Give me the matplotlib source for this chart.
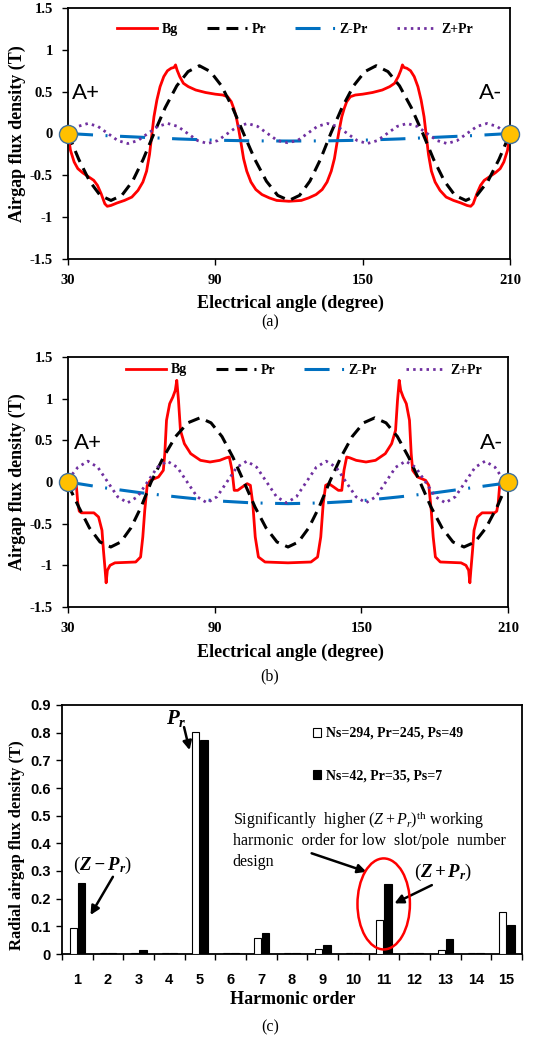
import matplotlib
matplotlib.use('Agg')
import numpy as np
import matplotlib.pyplot as plt
from matplotlib.patches import Ellipse

# ---------------- data ----------------
ANGLE_ENDS = [30, 210]
XTICKS = [30, 90, 150, 210]
YTICKS = [-1.5, -1.0, -0.5, 0.0, 0.5, 1.0, 1.5]
YTICKLABELS = ['-1.5', '-1', '-0.5', '0', '0.5', '1', '1.5']
SERIES_NAMES = ['Bg', 'Pr', 'Z-Pr', 'Z+Pr']

# Panel (a)
BG_A_DEG = [30.0, 31.0, 32.5, 34.0, 36.0, 38.5, 40.5, 42.0, 43.5, 45.0, 46.0, 47.5, 50.0, 53.0,
            56.0, 58.5, 60.5, 62.0, 63.2, 64.0, 65.0, 66.2, 67.5, 69.0, 70.5, 72.0, 73.2, 73.8,
            74.4, 75.5, 77.0, 79.0, 82.0, 86.0, 90.0, 93.0, 95.0, 96.5, 97.5, 98.5, 99.5, 100.5,
            101.5, 102.8, 104.5, 106.5, 109.0, 112.0, 115.0, 120.0,
            125.0, 128.0, 131.0, 133.5, 135.5, 137.2, 138.5, 139.5, 140.5, 141.5, 142.5, 143.5,
            145.0, 147.0, 150.0, 154.0, 158.0, 161.0, 163.0, 164.5, 165.6, 166.2, 166.8, 168.0,
            169.5, 171.0, 172.5, 173.8, 175.0, 176.0, 176.8, 178.0, 179.5, 181.5, 184.0, 187.0,
            190.0, 192.5, 194.0, 195.0, 196.5, 198.0, 199.5, 201.5, 204.0, 206.0, 207.5, 209.0, 210.0]
BG_A_VAL = [0.0, -0.2, -0.34, -0.42, -0.47, -0.52, -0.56, -0.62, -0.72, -0.84, -0.87, -0.86, -0.83, -0.8,
            -0.76, -0.68, -0.58, -0.45, -0.25, -0.05, 0.2, 0.4, 0.56, 0.68, 0.75, 0.78, 0.79, 0.82,
            0.76, 0.68, 0.6, 0.56, 0.52, 0.49, 0.47, 0.46, 0.44, 0.38, 0.3, 0.2, 0.05, -0.12,
            -0.3, -0.45, -0.58, -0.67, -0.73, -0.77, -0.8, -0.81,
            -0.8, -0.77, -0.73, -0.67, -0.58, -0.45, -0.3, -0.12, 0.05, 0.2, 0.3, 0.38,
            0.44, 0.46, 0.47, 0.49, 0.52, 0.56, 0.6, 0.68, 0.76, 0.82, 0.79, 0.78,
            0.75, 0.68, 0.56, 0.4, 0.2, -0.05, -0.25, -0.45, -0.58, -0.68, -0.76, -0.8,
            -0.83, -0.86, -0.87, -0.84, -0.72, -0.62, -0.56, -0.52, -0.47, -0.42, -0.34, -0.2, 0.0]

PR_A_DEG = [30.0, 34.4, 38.8, 43.1, 47.5, 51.9, 56.3, 60.6, 65.0, 69.6, 74.3, 78.9, 83.5, 88.0,
            92.5, 97.0, 101.5, 106.1, 110.8, 115.4, 120.0, 124.3, 128.5, 132.8, 137.0, 141.6,
            146.3, 150.9, 155.5, 160.3, 165.0, 169.8, 174.5, 178.9, 183.3, 187.6, 192.0, 196.5,
            201.0, 205.5, 210.0]
PR_A_VAL = [0.0, -0.31, -0.57, -0.74, -0.8, -0.74, -0.57, -0.31, 0.0, 0.31, 0.57, 0.74, 0.81, 0.74,
            0.57, 0.31, 0.0, -0.31, -0.57, -0.74, -0.8, -0.74, -0.57, -0.31, 0.0, 0.31,
            0.57, 0.74, 0.81, 0.74, 0.57, 0.31, 0.0, -0.31, -0.57, -0.74, -0.8, -0.74,
            -0.57, -0.31, 0.0]

ZM_DEG = [30, 45, 60, 75, 90, 105, 120, 135, 150, 165, 180, 195, 210]
ZM_A_VAL = [0.0, -0.025, -0.045, -0.065, -0.08, -0.088, -0.09, -0.088, -0.08, -0.065, -0.045, -0.025, 0.0]
ZM_B_VAL = [0.0, -0.07, -0.13, -0.18, -0.225, -0.25, -0.26, -0.25, -0.225, -0.18, -0.13, -0.07, -0.01]

ZP_DEG = [30.0, 34.06, 38.13, 42.19, 46.25, 50.31, 54.38, 58.44, 62.5, 66.56, 70.63, 74.69,
          78.75, 82.81, 86.88, 90.94, 95.0, 99.06, 103.13, 107.19, 111.25, 115.31, 119.38,
          123.44, 127.5, 131.56, 135.63, 139.69, 143.75, 147.81, 151.88, 155.94, 160.0, 164.06,
          168.13, 172.19, 176.25, 180.31, 184.38, 188.44, 192.5, 196.56, 200.63, 204.69, 208.75, 210.0]
ZP_A_VAL = [0.0, 0.085, 0.12, 0.085, 0.0, -0.085, -0.12, -0.085,
            0.0, 0.085, 0.12, 0.085, 0.0, -0.085, -0.12, -0.085,
            0.0, 0.085, 0.12, 0.085, 0.0, -0.085, -0.11, -0.085,
            0.0, 0.085, 0.12, 0.085, 0.0, -0.085, -0.12, -0.085,
            0.0, 0.085, 0.12, 0.085, 0.0, -0.085, -0.12, -0.085,
            0.0, 0.085, 0.12, 0.085, 0.0, -0.03]
ZP_B_VAL = [0.03, 0.177, 0.25, 0.177, 0.0, -0.177, -0.25, -0.177,
            0.0, 0.177, 0.25, 0.177, 0.0, -0.177, -0.25, -0.177,
            0.0, 0.177, 0.25, 0.177, 0.0, -0.177, -0.25, -0.177,
            0.0, 0.177, 0.25, 0.177, 0.0, -0.177, -0.25, -0.177,
            0.0, 0.177, 0.25, 0.177, 0.0, -0.177, -0.25, -0.177,
            0.0, 0.177, 0.25, 0.177, 0.0, -0.05]

# Panel (b)
BG_B_DEG = [30.0, 32.5, 33.3, 34.0, 34.6, 35.5, 40.6, 42.5, 43.9, 44.5, 45.2, 45.6, 46.1, 47.2,
            49.2, 57.7, 59.7, 60.6, 61.4, 62.4, 63.7, 67.0, 69.0, 69.6, 70.3, 71.6, 72.9, 73.9,
            74.5, 75.2, 76.0, 77.6, 80.2, 84.2, 88.1, 92.1, 94.7, 96.0, 97.1, 98.0, 99.4, 101.3,
            103.3, 104.6, 105.6, 106.6, 107.9, 110.6, 120.0,
            129.4, 132.1, 133.4, 134.4, 135.4, 136.7, 138.7, 140.6, 142.0, 142.9, 144.0, 145.3,
            147.9, 151.9, 155.8, 159.8, 162.4, 164.0, 164.8, 165.5, 166.1, 167.1, 168.4, 169.7,
            170.4, 171.0, 173.0, 176.3, 177.6, 178.6, 179.4, 180.3, 182.3, 190.8, 192.8, 193.9,
            194.4, 194.8, 195.5, 196.1, 197.5, 199.4, 204.5, 205.4, 206.0, 206.7, 207.5, 210.0]
BG_B_VAL = [0.05, 0.05, 0.0, -0.25, -0.35, -0.37, -0.37, -0.42, -0.58, -0.82, -1.06, -1.21, -1.06, -1.0,
            -0.97, -0.96, -0.9, -0.66, -0.34, -0.04, 0.02, 0.06, 0.14, 0.34, 0.74, 0.94, 1.02, 1.1,
            1.22, 0.98, 0.62, 0.46, 0.34, 0.26, 0.24, 0.26, 0.29, 0.3, 0.14, -0.1, -0.1, -0.06,
            -0.02, -0.04, -0.26, -0.66, -0.9, -0.96, -0.97,
            -0.96, -0.9, -0.66, -0.26, -0.04, -0.02, -0.06, -0.1, -0.1, 0.14, 0.3, 0.29,
            0.26, 0.24, 0.26, 0.34, 0.46, 0.62, 0.98, 1.22, 1.1, 1.02, 0.94, 0.74,
            0.34, 0.14, 0.06, 0.02, -0.04, -0.34, -0.66, -0.9, -0.96, -0.97, -1.0, -1.06,
            -1.21, -1.06, -0.82, -0.58, -0.42, -0.37, -0.37, -0.35, -0.25, 0.0, 0.05, 0.05]

PR_B_DEG = [30.0, 34.4, 38.75, 43.1, 47.5, 51.6, 55.75, 59.9, 64.0, 69.0, 74.0, 79.0, 84.0, 88.5,
            93.0, 97.5, 102.0, 106.5, 111.0, 115.5, 120.0, 124.25, 128.5, 132.75, 137.0, 141.6,
            146.25, 150.9, 155.5, 160.1, 164.75, 169.4, 174.0, 178.5, 183.0, 187.5, 192.0, 196.5,
            201.0, 205.5, 210.0]
PR_B_VAL = [-0.03, -0.3, -0.55, -0.72, -0.78, -0.72, -0.55, -0.3, 0.0, 0.295, 0.545, 0.71, 0.77, 0.71,
            0.545, 0.295, 0.0, -0.3, -0.55, -0.72, -0.78, -0.72, -0.55, -0.3, 0.0, 0.295,
            0.545, 0.71, 0.77, 0.71, 0.545, 0.295, 0.0, -0.3, -0.55, -0.72, -0.78, -0.72,
            -0.55, -0.3, 0.0]

# Panel (c)
HARMONICS = [1, 2, 3, 4, 5, 6, 7, 8, 9, 10, 11, 12, 13, 14, 15]
B_NS294 = [0.095, 0.003, 0.003, 0.003, 0.803, 0.003, 0.057, 0.003, 0.019, 0.003, 0.122, 0.003, 0.014, 0.003, 0.151]
B_NS42 = [0.258, 0.003, 0.014, 0.003, 0.772, 0.003, 0.075, 0.003, 0.031, 0.003, 0.253, 0.003, 0.053, 0.003, 0.104]
LABEL_294 = 'Ns=294, Pr=245, Ps=49'
LABEL_42 = 'Ns=42, Pr=35, Ps=7'
YTICKS_C = [0.0, 0.1, 0.2, 0.3, 0.4, 0.5, 0.6, 0.7, 0.8, 0.9]
YTICKLABELS_C = ['0', '0.1', '0.2', '0.3', '0.4', '0.5', '0.6', '0.7', '0.8', '0.9']
NOTE_LINES = ['Significantly  higher $(Z+P_r)^{\\mathrm{th}}$ working',
              'harmonic  order for low  slot/pole  number',
              'design']

# ---------------- style ----------------
plt.rcParams['font.family'] = ['Liberation Serif', 'DejaVu Serif']
plt.rcParams['mathtext.fontset'] = 'custom'
plt.rcParams['mathtext.rm'] = 'Liberation Serif'
plt.rcParams['mathtext.it'] = 'Liberation Serif:italic'
plt.rcParams['mathtext.bf'] = 'Liberation Serif:bold:italic'

W, H = 538, 1037
fig = plt.figure(figsize=(W / 100, H / 100), dpi=100)


def box(l, t, r, b):
    return [l / W, 1 - b / H, (r - l) / W, (b - t) / H]


def px(x, y):
    return x / W, 1 - y / H


SPINE_W = 1.3


def wave_panel(rect, bgx, bgy, prx, pry, zmy, zpy, leg_anchor, aplus, aminus):
    ax = fig.add_axes(rect)
    ax.plot(bgx, bgy, color='#FF0000', lw=2.0, label=SERIES_NAMES[0])
    ax.plot(prx, pry, color='black', lw=2.2, ls=(0, (3.9, 2.3)), label=SERIES_NAMES[1])
    ax.plot(ZM_DEG, zmy, color='#0070C0', lw=2.2, ls=(0, (8.2, 4.1, 0.65, 4.1)), label=SERIES_NAMES[2])
    ax.plot(ZP_DEG, zpy, color='#7030A0', lw=2.0, ls=(0, (0.9, 1.5)), label=SERIES_NAMES[3])
    ax.plot(ANGLE_ENDS, [0, 0], ls='none', marker='o', ms=13, mfc='#FFC000', mec='#41719C',
            mew=1.0, clip_on=False, zorder=10)
    ax.set_xlim(30, 210)
    ax.set_ylim(-1.5, 1.5)
    ax.set_xticks(XTICKS)
    ax.set_yticks(YTICKS)
    ax.set_yticklabels(YTICKLABELS)
    ax.tick_params(direction='out', length=4, width=1.0, labelsize=10.5, pad=7)
    for t in ax.get_xticklabels() + ax.get_yticklabels():
        t.set_fontweight('bold')
    for s in ax.spines.values():
        s.set_linewidth(SPINE_W)
    ax.legend(loc='center left', bbox_to_anchor=leg_anchor, ncol=4, frameon=False,
              handlelength=2.9, handletextpad=0.3, columnspacing=2.1, borderpad=0,
              borderaxespad=0, prop={'weight': 'bold', 'size': 10})
    ax.text(aplus[0], aplus[1], 'A+', fontsize=16, family='Lato', ha='left', va='baseline')
    ax.text(aminus[0], aminus[1], 'A-', fontsize=16, family='Lato', ha='right', va='baseline')
    return ax


# Panel (a)
ax_a = wave_panel(box(68, 8, 510, 259), BG_A_DEG, BG_A_VAL, PR_A_DEG, PR_A_VAL, ZM_A_VAL, ZP_A_VAL,
                  (0.111, 0.916), (31.6, 0.41), (207.0, 0.41))
fig.text(*px(17, 133.5), 'Airgap flux density (T)', rotation=90, ha='center', va='center',
         fontsize=13, weight='bold')
fig.text(*px(290, 303), 'Electrical angle (degree)', ha='center', va='center', fontsize=13, weight='bold')
fig.text(*px(270, 322), '(a)', ha='center', va='center', fontsize=11.5)

# Panel (b)
ax_b = wave_panel(box(68, 357, 508, 607), BG_B_DEG, BG_B_VAL, PR_B_DEG, PR_B_VAL, ZM_B_VAL, ZP_B_VAL,
                  (0.132, 0.948), (32.5, 0.40), (208.0, 0.40))
fig.text(*px(17, 482), 'Airgap flux density (T)', rotation=90, ha='center', va='center',
         fontsize=13, weight='bold')
fig.text(*px(290, 652), 'Electrical angle (degree)', ha='center', va='center', fontsize=13, weight='bold')
fig.text(*px(270, 676), '(b)', ha='center', va='center', fontsize=11.5)

# Panel (c)
ax_c = fig.add_axes(box(62, 705, 522, 954))
hx = np.array(HARMONICS, dtype=float)
ax_c.bar(hx - 0.135, B_NS294, width=0.23, color='white', edgecolor='black', lw=0.8, label=LABEL_294, zorder=3)
ax_c.bar(hx + 0.14, B_NS42, width=0.25, color='black', edgecolor='black', lw=0.8, label=LABEL_42, zorder=3)
ax_c.set_xlim(0.5, 15.5)
ax_c.set_ylim(0, 0.9)
ax_c.set_xticks(hx)
ax_c.set_xticklabels([str(h) for h in HARMONICS])
ax_c.set_xticks(np.arange(0.5, 15.6, 1.0), minor=True)
ax_c.set_yticks(YTICKS_C)
ax_c.set_yticklabels(YTICKLABELS_C)
ax_c.tick_params(axis='x', which='major', length=0, pad=14, labelsize=10.5)
ax_c.tick_params(axis='x', which='minor', length=4, width=1.0, direction='out')
ax_c.tick_params(axis='y', which='major', length=4, width=1.0, direction='out', pad=4, labelsize=10.5)
for t in ax_c.get_xticklabels() + ax_c.get_yticklabels():
    t.set_fontweight('bold')
    t.set_family('Liberation Sans')
for s in ax_c.spines.values():
    s.set_linewidth(SPINE_W)

ax_c.legend(loc='upper left', bbox_to_anchor=((313 - 62) / 460, (954 - 727) / 249), frameon=False,
            handlelength=0.6, handleheight=0.6, handletextpad=0.3, labelspacing=2.1,
            borderpad=0, borderaxespad=0, prop={'weight': 'bold', 'size': 10})

arrow_kw = dict(arrowstyle='-|>', color='black', lw=1.8, mutation_scale=13, shrinkA=0, shrinkB=0)
ax_c.text(4.22, 0.85, r'$\mathbf{P_r}$', ha='center', va='center', fontsize=15)
ax_c.annotate('', xy=(4.66, 0.737), xytext=(4.48, 0.82), arrowprops=arrow_kw)
ax_c.text(1.82, 0.32, r'$(\mathbf{Z-P_r})$', ha='center', va='center', fontsize=13.5)
ax_c.annotate('', xy=(1.43, 0.141), xytext=(2.16, 0.279), arrowprops=arrow_kw)
ax_c.text(12.94, 0.293, r'$(\mathbf{Z+P_r})$', ha='center', va='center', fontsize=13.5)
ax_c.annotate('', xy=(11.34, 0.183), xytext=(12.56, 0.249), arrowprops=arrow_kw)
for i, line in enumerate(NOTE_LINES):
    ax_c.text(6.06, 0.484 - i * 0.075, line, ha='left', va='center', fontsize=11.5)
ax_c.annotate('', xy=(10.43, 0.297), xytext=(8.64, 0.364), arrowprops=arrow_kw)
ax_c.add_patch(Ellipse((10.99, 0.181), 1.71, 0.329, fill=False, edgecolor='#FF0000', lw=1.8, zorder=5))

fig.text(*px(17, 845), 'Radial airgap flux density (T)', rotation=90, ha='center', va='center',
         fontsize=12, weight='bold')
fig.text(*px(293, 1000), 'Harmonic order', ha='center', va='center', fontsize=13, weight='bold')
fig.text(*px(270, 1027), '(c)', ha='center', va='center', fontsize=11.5)

fig.savefig('out.png', dpi=100)
